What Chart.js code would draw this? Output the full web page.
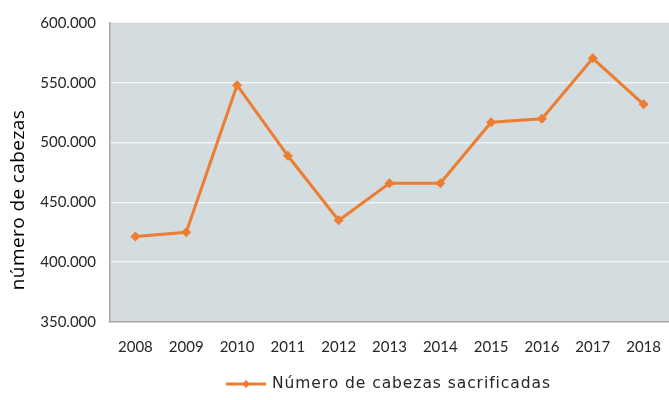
<!DOCTYPE html>
<html>
<head>
<meta charset="utf-8">
<script src="https://cdn.jsdelivr.net/npm/chart.js@4"></script>
<style>
  html, body { margin: 0; padding: 0; background: #fff; }
  #wrap { width: 669px; height: 400px; }
</style>
</head>
<body>
<div id="wrap"><canvas id="chart" width="669" height="400"></canvas></div>
<script>
// data
const years = ['2008', '2009', '2010', '2011', '2012', '2013', '2014', '2015', '2016', '2017', '2018'];
const cabezas = [421500, 425000, 548000, 489000, 435000, 466000, 466000, 517000, 520000, 570500, 532000];
const seriesLabel = 'Número de cabezas sacrificadas';
const yTitle = 'número de cabezas';

const FONT = "Lato, 'Open Sans', sans-serif";
const ORANGE = '#ed7d31';

function fmt(v) {
  return String(v).replace(/\B(?=(\d{3})+(?!\d))/g, '.');
}

// stretch a string to a target width by letter spacing
function spaced(ctx, text, target) {
  const w = ctx.measureText(text).width;
  ctx.letterSpacing = Math.max(0, (target - w) / (text.length - 1)) + 'px';
}

// grey plot background + top edge line
const plotBg = {
  id: 'plotBg',
  beforeDraw(chart) {
    const { ctx, chartArea: a } = chart;
    ctx.save();
    ctx.fillStyle = '#d3dcde';
    ctx.fillRect(a.left, a.top, a.right - a.left, a.bottom - a.top);
    ctx.strokeStyle = '#b4b9ba';
    ctx.lineWidth = 1;
    ctx.beginPath();
    ctx.moveTo(a.left, a.top + 0.5);
    ctx.lineTo(a.right, a.top + 0.5);
    ctx.stroke();
    ctx.restore();
  }
};

// y title drawn by hand (sits a bit below the middle in the original)
const yTitlePlugin = {
  id: 'yTitlePlugin',
  afterDraw(chart) {
    const ctx = chart.ctx;
    ctx.save();
    ctx.font = "17px 'Open Sans', sans-serif";
    const w = ctx.measureText(yTitle).width;
    const size = Math.min(19, 17 * 180 / w);
    ctx.font = size.toFixed(1) + "px 'Open Sans', sans-serif";
    spaced(ctx, yTitle, 180);
    ctx.translate(19, 200);
    ctx.rotate(-Math.PI / 2);
    ctx.fillStyle = '#000';
    ctx.textAlign = 'center';
    ctx.textBaseline = 'middle';
    ctx.fillText(yTitle, 0, 0);
    ctx.restore();
  }
};

// legend: line with diamond, then label
const lineLegend = {
  id: 'lineLegend',
  afterDraw(chart) {
    const ctx = chart.ctx;
    const y = 384;
    const x0 = 226, x1 = 266;
    ctx.save();
    ctx.strokeStyle = ORANGE;
    ctx.lineWidth = 3;
    ctx.beginPath();
    ctx.moveTo(x0, y);
    ctx.lineTo(x1, y);
    ctx.stroke();
    ctx.fillStyle = ORANGE;
    const cx = (x0 + x1) / 2, r = 4;
    ctx.beginPath();
    ctx.moveTo(cx, y - r); ctx.lineTo(cx + r, y); ctx.lineTo(cx, y + r); ctx.lineTo(cx - r, y);
    ctx.closePath();
    ctx.fill();
    ctx.fillStyle = '#262626';
    ctx.font = "15.5px 'DejaVu Sans', sans-serif";
    const label = chart.data.datasets[0].label;
    spaced(ctx, label, 278);
    ctx.textBaseline = 'middle';
    ctx.fillText(label, 272, y);
    ctx.restore();
  }
};

new Chart(document.getElementById('chart'), {
  type: 'line',
  data: {
    labels: years,
    datasets: [{
      label: seriesLabel,
      data: cabezas,
      borderColor: ORANGE,
      backgroundColor: ORANGE,
      borderWidth: 3,
      pointStyle: 'rectRot',
      pointRadius: 5,
      pointBorderWidth: 0,
      tension: 0
    }]
  },
  options: {
    responsive: false,
    animation: false,
    layout: { autoPadding: false, padding: { top: 20, right: 0, left: 0, bottom: 0 } },
    plugins: {
      legend: { display: false },
      tooltip: { enabled: false }
    },
    scales: {
      x: {
        offset: true,
        grid: { display: false, drawTicks: true, tickLength: 14 },
        border: { color: '#a6a6a6', width: 1.5 },
        ticks: { color: '#262626', font: { family: FONT, size: 15 }, padding: 2, maxRotation: 0 },
        afterFit(s) { s.height = 78; s.paddingLeft = 0; s.paddingRight = 0; }
      },
      y: {
        min: 350000,
        max: 600000,
        grid: { color: '#f2f4f4', lineWidth: 1.5, drawTicks: false },
        border: { color: '#a6a6a6', width: 1.5 },
        ticks: {
          stepSize: 50000,
          color: '#262626',
          font: { family: FONT, size: 15 },
          padding: 14,
          callback: v => fmt(v)
        },
        afterFit(s) { s.width = 110; }
      }
    }
  },
  plugins: [plotBg, yTitlePlugin, lineLegend]
});
</script>
</body>
</html>
